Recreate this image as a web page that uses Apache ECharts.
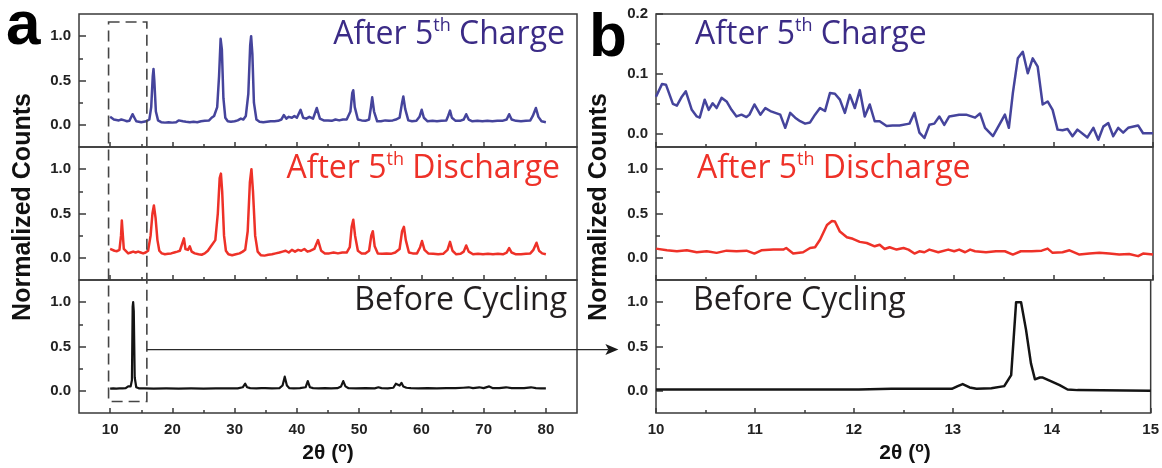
<!DOCTYPE html>
<html><head><meta charset="utf-8">
<script src="https://cdn.jsdelivr.net/npm/echarts@6/dist/echarts.min.js"></script>
<style>html,body{margin:0;padding:0;background:#fff}#c{width:1162px;height:468px}</style>
</head><body><div id="c"></div>
<script>
// ---------- data: panel a (10-80 deg) ----------
const chargeWide = [[10.0,0.09],[10.3,0.07],[10.6,0.06],[11.0,0.055],[11.4,0.05],[11.8,0.06],[12.0,0.075],[12.3,0.05],[12.7,0.04],[13.1,0.045],[13.4,0.06],[13.6,0.12],[13.75,0.14],[13.9,0.08],[14.2,0.04],[14.6,0.035],[15.0,0.03],[15.4,0.035],[15.8,0.04],[16.3,0.06],[16.6,0.2],[16.85,0.55],[16.97,0.63],[17.1,0.5],[17.35,0.15],[17.7,0.05],[18.2,0.03],[18.8,0.025],[19.4,0.03],[20.0,0.025],[20.6,0.03],[21.0,0.05],[21.3,0.06],[21.7,0.04],[22.2,0.035],[22.8,0.03],[23.4,0.035],[24.0,0.03],[24.6,0.04],[25.2,0.045],[25.5,0.06],[25.9,0.05],[26.3,0.08],[26.7,0.1],[27.2,0.2],[27.5,0.55],[27.75,0.97],[27.95,0.85],[28.2,0.3],[28.5,0.08],[28.9,0.04],[29.4,0.035],[30.0,0.04],[30.5,0.05],[31.0,0.07],[31.4,0.06],[31.8,0.1],[32.2,0.35],[32.5,0.9],[32.65,1.0],[32.85,0.8],[33.1,0.25],[33.5,0.06],[34.0,0.035],[34.6,0.03],[35.2,0.035],[35.8,0.04],[36.4,0.04],[37.0,0.045],[37.5,0.06],[37.9,0.11],[38.3,0.07],[38.7,0.09],[39.2,0.08],[39.6,0.1],[40.0,0.08],[40.6,0.17],[41.0,0.08],[41.5,0.07],[42.0,0.09],[42.6,0.07],[43.2,0.19],[43.7,0.07],[44.3,0.05],[45.0,0.05],[45.6,0.045],[46.2,0.06],[46.8,0.05],[47.4,0.06],[48.0,0.06],[48.6,0.15],[48.9,0.36],[49.06,0.39],[49.3,0.2],[49.8,0.06],[50.4,0.05],[51.0,0.045],[51.6,0.06],[51.9,0.2],[52.1,0.31],[52.4,0.15],[52.9,0.04],[53.5,0.04],[54.2,0.05],[54.8,0.045],[55.4,0.05],[55.9,0.06],[56.5,0.08],[56.9,0.25],[57.1,0.32],[57.4,0.18],[57.9,0.05],[58.5,0.04],[59.2,0.045],[59.7,0.09],[60.05,0.17],[60.4,0.08],[61.0,0.04],[61.8,0.045],[62.5,0.04],[63.2,0.045],[64.0,0.05],[64.3,0.1],[64.6,0.16],[64.9,0.08],[65.5,0.045],[66.2,0.045],[66.8,0.06],[67.2,0.12],[67.6,0.06],[68.2,0.04],[69.0,0.045],[69.8,0.04],[70.6,0.045],[71.4,0.04],[72.2,0.045],[73.0,0.045],[73.7,0.06],[74.1,0.12],[74.5,0.06],[75.2,0.045],[76.0,0.04],[76.8,0.045],[77.5,0.05],[77.9,0.1],[78.4,0.19],[78.8,0.09],[79.3,0.04],[80.0,0.03]];
const dischargeWide = [[10.0,0.1],[10.3,0.08],[10.7,0.08],[11.1,0.075],[11.5,0.09],[11.75,0.25],[11.88,0.42],[12.0,0.3],[12.2,0.1],[12.5,0.08],[12.9,0.05],[13.3,0.06],[13.7,0.07],[14.1,0.06],[14.5,0.07],[14.9,0.06],[15.3,0.05],[15.7,0.06],[16.1,0.08],[16.5,0.25],[16.8,0.5],[17.03,0.59],[17.3,0.45],[17.6,0.2],[17.9,0.08],[18.3,0.05],[18.8,0.04],[19.3,0.045],[19.8,0.05],[20.3,0.06],[20.8,0.07],[21.2,0.08],[21.5,0.1],[21.86,0.22],[22.1,0.1],[22.5,0.09],[22.8,0.13],[23.1,0.07],[23.6,0.05],[24.2,0.04],[24.7,0.035],[25.2,0.05],[25.7,0.08],[26.2,0.13],[26.5,0.15],[26.9,0.2],[27.3,0.5],[27.6,0.9],[27.8,0.95],[28.0,0.75],[28.3,0.25],[28.6,0.08],[29.0,0.04],[29.6,0.03],[30.2,0.04],[30.8,0.05],[31.3,0.07],[31.7,0.09],[32.1,0.3],[32.45,0.85],[32.7,1.0],[32.95,0.75],[33.3,0.25],[33.7,0.07],[34.2,0.03],[34.8,0.025],[35.4,0.035],[36.0,0.04],[36.6,0.05],[37.2,0.06],[37.7,0.07],[38.2,0.08],[38.7,0.06],[39.2,0.09],[39.7,0.07],[40.2,0.09],[40.7,0.08],[41.2,0.1],[41.7,0.07],[42.2,0.08],[42.8,0.1],[43.4,0.2],[43.9,0.08],[44.5,0.05],[45.2,0.05],[45.9,0.06],[46.6,0.05],[47.3,0.06],[48.0,0.06],[48.5,0.12],[48.8,0.35],[49.06,0.43],[49.35,0.25],[49.8,0.08],[50.4,0.05],[51.0,0.05],[51.6,0.08],[51.95,0.25],[52.2,0.3],[52.5,0.13],[53.0,0.05],[53.7,0.045],[54.4,0.05],[55.1,0.045],[55.8,0.06],[56.5,0.1],[56.9,0.3],[57.2,0.35],[57.5,0.2],[58.0,0.06],[58.6,0.05],[59.3,0.05],[59.8,0.12],[60.1,0.19],[60.5,0.09],[61.1,0.05],[61.9,0.045],[62.7,0.04],[63.5,0.045],[64.2,0.09],[64.6,0.18],[65.0,0.08],[65.6,0.04],[66.3,0.045],[66.8,0.07],[67.2,0.14],[67.6,0.07],[68.3,0.04],[69.1,0.045],[69.9,0.04],[70.7,0.045],[71.5,0.04],[72.3,0.045],[73.1,0.04],[73.7,0.06],[74.1,0.11],[74.5,0.06],[75.2,0.04],[76.0,0.04],[76.8,0.045],[77.5,0.05],[78.0,0.09],[78.5,0.17],[78.9,0.08],[79.4,0.05],[80.0,0.04]];
const beforeWide = [[10.0,0.025],[10.5,0.028],[11.0,0.026],[11.5,0.028],[12.0,0.027],[12.5,0.03],[12.9,0.05],[13.1,0.07],[13.3,0.05],[13.5,0.12],[13.62,0.95],[13.7,1.0],[13.8,0.9],[13.95,0.15],[14.2,0.04],[14.6,0.028],[15.5,0.027],[17,0.026],[19,0.027],[21,0.026],[23,0.027],[25,0.026],[27,0.028],[29,0.027],[30.5,0.028],[31.3,0.04],[31.7,0.08],[32.0,0.04],[32.5,0.03],[33.5,0.028],[34.3,0.03],[34.6,0.045],[34.9,0.03],[36,0.028],[37.2,0.03],[37.7,0.06],[38.05,0.16],[38.4,0.06],[38.8,0.03],[39.5,0.028],[40.5,0.03],[41.4,0.04],[41.75,0.11],[42.1,0.04],[42.6,0.03],[43.5,0.028],[44.5,0.03],[45.5,0.028],[46.5,0.03],[47.1,0.05],[47.45,0.11],[47.8,0.05],[48.3,0.03],[49.5,0.028],[51,0.03],[52.5,0.028],[53.1,0.04],[53.6,0.03],[54.6,0.028],[55.5,0.035],[55.9,0.08],[56.2,0.07],[56.5,0.06],[56.8,0.09],[57.1,0.05],[57.6,0.035],[57.9,0.05],[58.3,0.03],[59.5,0.028],[61,0.03],[62.5,0.028],[64,0.03],[65.5,0.03],[66.7,0.035],[67.6,0.04],[68.3,0.03],[69.3,0.04],[70.0,0.03],[70.9,0.05],[71.5,0.03],[72.5,0.03],[73.6,0.04],[74.5,0.03],[75.5,0.03],[76.5,0.03],[77.6,0.04],[78.4,0.03],[79.2,0.028],[80.0,0.027]];

// ---------- data: panel b (10-15 deg) ----------
const chargeZoom = [[10.00,0.062],[10.06,0.083],[10.10,0.082],[10.17,0.050],[10.21,0.047],[10.26,0.062],[10.30,0.071],[10.36,0.040],[10.41,0.029],[10.44,0.027],[10.49,0.057],[10.53,0.040],[10.57,0.051],[10.61,0.043],[10.66,0.060],[10.71,0.054],[10.76,0.040],[10.81,0.029],[10.86,0.032],[10.91,0.028],[10.94,0.032],[10.99,0.049],[11.05,0.032],[11.10,0.043],[11.15,0.038],[11.20,0.035],[11.25,0.032],[11.30,0.010],[11.35,0.035],[11.40,0.027],[11.45,0.021],[11.50,0.017],[11.55,0.019],[11.60,0.032],[11.65,0.043],[11.70,0.038],[11.75,0.068],[11.80,0.067],[11.85,0.057],[11.90,0.035],[11.95,0.065],[12.00,0.043],[12.05,0.073],[12.10,0.029],[12.15,0.049],[12.20,0.021],[12.25,0.021],[12.32,0.013],[12.38,0.014],[12.45,0.014],[12.55,0.017],[12.60,0.035],[12.65,0.002],[12.70,-0.007],[12.75,0.015],[12.80,0.017],[12.85,0.029],[12.90,0.015],[12.95,0.029],[13.05,0.032],[13.12,0.032],[13.21,0.027],[13.26,0.034],[13.31,0.010],[13.39,-0.004],[13.46,0.017],[13.51,0.032],[13.55,0.010],[13.59,0.068],[13.64,0.126],[13.69,0.137],[13.74,0.101],[13.79,0.126],[13.84,0.112],[13.89,0.049],[13.94,0.054],[13.99,0.040],[14.04,0.007],[14.09,0.006],[14.14,0.008],[14.19,-0.004],[14.24,0.007],[14.34,-0.006],[14.40,0.010],[14.45,-0.010],[14.50,0.012],[14.55,0.018],[14.60,-0.004],[14.65,0.010],[14.70,0.002],[14.75,0.010],[14.85,0.014],[14.90,0.001],[15.00,0.001]];
const dischargeZoom = [[10.00,0.104],[10.11,0.085],[10.21,0.074],[10.31,0.085],[10.41,0.063],[10.51,0.074],[10.61,0.056],[10.71,0.081],[10.81,0.074],[10.91,0.081],[10.99,0.048],[11.06,0.085],[11.18,0.093],[11.28,0.093],[11.31,0.111],[11.38,0.048],[11.48,0.063],[11.55,0.111],[11.60,0.119],[11.65,0.204],[11.72,0.37],[11.77,0.415],[11.80,0.41],[11.85,0.296],[11.92,0.233],[11.98,0.215],[12.05,0.18],[12.12,0.167],[12.20,0.13],[12.25,0.148],[12.30,0.10],[12.35,0.119],[12.42,0.093],[12.49,0.111],[12.54,0.093],[12.60,0.048],[12.65,0.074],[12.70,0.063],[12.75,0.093],[12.84,0.063],[12.94,0.093],[13.00,0.074],[13.05,0.093],[13.11,0.063],[13.16,0.093],[13.21,0.074],[13.32,0.063],[13.42,0.074],[13.51,0.074],[13.59,0.037],[13.67,0.074],[13.78,0.074],[13.88,0.081],[13.94,0.104],[13.99,0.056],[14.09,0.063],[14.16,0.085],[14.26,0.037],[14.36,0.048],[14.46,0.056],[14.56,0.048],[14.66,0.037],[14.76,0.044],[14.85,0.019],[14.90,0.048],[15.00,0.037]];
const beforeZoom = [[10.0,0.015],[10.5,0.016],[11.0,0.015],[11.5,0.016],[12.05,0.015],[12.38,0.023],[12.99,0.023],[13.05,0.053],[13.10,0.076],[13.17,0.038],[13.24,0.023],[13.39,0.03],[13.52,0.053],[13.59,0.178],[13.64,1.0],[13.69,1.0],[13.74,0.69],[13.79,0.31],[13.83,0.13],[13.88,0.15],[13.91,0.15],[13.99,0.11],[14.08,0.064],[14.16,0.015],[14.26,0.008],[15.0,0.0]];

// ---------- ticks & labels ----------
const wideXMajor = [10,20,30,40,50,60,70,80];
const wideXMinor = [15,25,35,45,55,65,75];
const zoomXMajor = [10,11,12,13,14,15];
const zoomXMinor = [10.5,11.5,12.5,13.5,14.5];
const yMajor = [0,0.5,1.0];
const yMinor = [0.25,0.75];
const yMajorSmall = [0,0.1,0.2];
const yMinorSmall = [0.05,0.15];
const stateLabels = ['After 5{sup|th} Charge','After 5{sup|th} Discharge','Before Cycling'];
const yName = 'Normalized Counts';
const xName = '2θ ({sup|o})';
const panelNames = ['a','b'];

// annotation (data coordinates)
const boxCorners = [[9.75,1.16],[15.9,-0.12]];  // top-left on grid 0, bottom-right on grid 2
const arrowEnds = [[15.9,0.465],[9.62,0.465]];   // start on grid 2, tip on grid 5

// ---------- styling ----------
const frame = '#3a3a3a';
const colCharge = '#45449c', colChargeText = '#3b2b86';
const colRed = '#ee3128';
const colBlack = '#141414';
const tickFont = 'Liberation Sans';

const tops = [14,147,280];
const gridH = 133;
const grids = [];
[[79,498],[656,497]].forEach(([l,w]) => tops.forEach(t => grids.push({left:l, top:t, width:w, height:gridH, show:true, borderColor:frame, borderWidth:1.5, backgroundColor:'transparent'})));

const xAxis = [], yAxis = [];
function addAxes(g, xr, xMaj, xMin, showXLabel, yr, yMaj, yMin){
  const tickStyle = {color:frame, width:1.5};
  const bx = {type:'value', gridIndex:g, min:xr[0], max:xr[1], position:'bottom', axisLine:{show:false,onZero:false}, splitLine:{show:false}};
  xAxis.push(Object.assign({}, bx, {axisTick:{show:true, inside:true, length:5, customValues:xMaj, lineStyle:tickStyle},
    axisLabel:{show:showXLabel, customValues:xMaj, color:'#222', fontWeight:'bold', fontSize:15, fontFamily:tickFont, margin:9}}));
  xAxis.push(Object.assign({}, bx, {axisTick:{show:true, inside:true, length:3, customValues:xMin, lineStyle:tickStyle}, axisLabel:{show:false}}));
  const by = {type:'value', gridIndex:g, min:yr[0], max:yr[1], position:'left', axisLine:{show:false,onZero:false}, splitLine:{show:false}};
  yAxis.push(Object.assign({}, by, {axisTick:{show:true, inside:true, length:7, customValues:yMaj, lineStyle:tickStyle},
    axisLabel:{show:true, customValues:yMaj, formatter:v=>Number(v).toFixed(1), color:'#222', fontWeight:'bold', fontSize:15, fontFamily:tickFont, margin:8}}));
  yAxis.push(Object.assign({}, by, {axisTick:{show:true, inside:true, length:4, customValues:yMin, lineStyle:tickStyle}, axisLabel:{show:false}}));
}
const yFull = [-0.25,1.25];
addAxes(0,[5,85],wideXMajor,wideXMinor,false,yFull,yMajor,yMinor);
addAxes(1,[5,85],wideXMajor,wideXMinor,false,yFull,yMajor,yMinor);
addAxes(2,[5,85],wideXMajor,wideXMinor,true,yFull,yMajor,yMinor);
addAxes(3,[10,15],zoomXMajor,zoomXMinor,false,[-0.022,0.2],yMajorSmall,yMinorSmall);
addAxes(4,[10,15],zoomXMajor,zoomXMinor,false,yFull,yMajor,yMinor);
addAxes(5,[10,15],zoomXMajor,zoomXMinor,true,yFull,yMajor,yMinor);

const seriesDefs = [[chargeWide,colCharge,2.5],[dischargeWide,colRed,2.5],[beforeWide,colBlack,2.2],[chargeZoom,colCharge,2.5],[dischargeZoom,colRed,2.5],[beforeZoom,colBlack,2.5]];
const series = seriesDefs.map(([d,c,w],g)=>({type:'line', data:d, xAxisIndex:2*g, yAxisIndex:2*g, showSymbol:false, symbol:'none', clip:true,
  lineStyle:{color:c, width:w, join:'round'}, itemStyle:{color:c}, z:3}));

const chart = echarts.init(document.getElementById('c'), null, {renderer:'canvas'});
chart.setOption({animation:false, backgroundColor:'#fff', grid:grids, xAxis, yAxis, series});

// ---------- text & annotations ----------
const g = [];
const labelColors = [colChargeText, colRed, '#231f20'];
function stateText(txt, x, yBase, align, col){
  return {type:'text', x:x, y:yBase-12.4, z:10, style:{text:txt, fontSize:32, fontFamily:'Open Sans', lineHeight:36, fill:col, align:align, verticalAlign:'middle',
    rich:{sup:{fontSize:18, fontFamily:'Open Sans', lineHeight:22, verticalAlign:'top', fill:col}}}};
}
const bases = [47,181.7,313];
const rightA = [565,560,567];
const leftB = [695,697,693];
for (let i=0;i<3;i++){
  g.push(stateText(stateLabels[i], rightA[i], bases[i], 'right', labelColors[i]));
  g.push(stateText(stateLabels[i], leftB[i], bases[i], 'left', labelColors[i]));
}
[[23,207],[599,207]].forEach(([x,y])=>g.push({type:'text', x:x, y:y, rotation:Math.PI/2, z:10,
  style:{text:yName, fontSize:25, fontWeight:'bold', fontFamily:tickFont, fill:'#111', align:'center', verticalAlign:'middle'}}));
[[328,453],[905,453]].forEach(([x,y])=>g.push({type:'text', x:x, y:y, z:10,
  style:{text:xName, fontSize:21, fontWeight:'bold', fontFamily:tickFont, lineHeight:24, fill:'#111', align:'center', verticalAlign:'middle',
    rich:{sup:{fontSize:14, fontWeight:'bold', fontFamily:tickFont, lineHeight:14, verticalAlign:'top', fill:'#111'}}}}));
g.push({type:'text', x:6, y:26.5, z:10, style:{text:panelNames[0], fontSize:62, fontWeight:'bold', fontFamily:tickFont, fill:'#000', align:'left', verticalAlign:'middle'}});
g.push({type:'text', x:589, y:38.5, z:10, style:{text:panelNames[1], fontSize:62, fontWeight:'bold', fontFamily:tickFont, fill:'#000', align:'left', verticalAlign:'middle'}});

const tl = chart.convertToPixel({xAxisIndex:0,yAxisIndex:0}, boxCorners[0]);
const br = chart.convertToPixel({xAxisIndex:4,yAxisIndex:4}, boxCorners[1]);
const a0 = chart.convertToPixel({xAxisIndex:4,yAxisIndex:4}, arrowEnds[0]);
const a1 = chart.convertToPixel({xAxisIndex:10,yAxisIndex:10}, arrowEnds[1]);
g.push({type:'rect', z:9, shape:{x:tl[0], y:tl[1], width:br[0]-tl[0], height:br[1]-tl[1]},
  style:{fill:'none', stroke:'#454545', lineWidth:1.6, lineDash:[11,6]}});
g.push({type:'line', z:9, shape:{x1:a0[0], y1:a0[1], x2:a1[0]-10, y2:a0[1]}, style:{stroke:'#2a2a2a', lineWidth:1.4}});
g.push({type:'polygon', z:9, shape:{points:[[a1[0],a0[1]],[a1[0]-13,a0[1]-5.5],[a1[0]-10,a0[1]],[a1[0]-13,a0[1]+5.5]]}, style:{fill:'#1a1a1a'}});
chart.setOption({graphic:g});
</script>
</body></html>
